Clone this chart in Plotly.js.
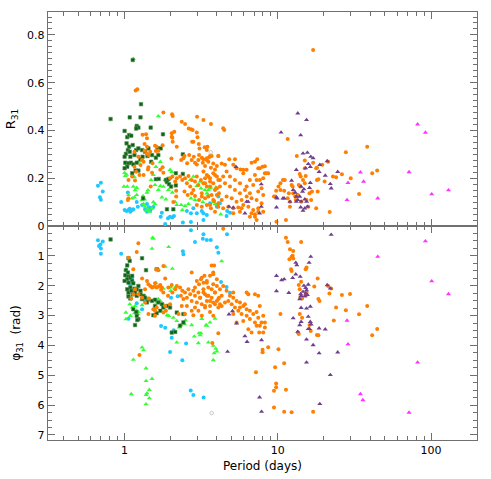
<!DOCTYPE html>
<html>
<head>
<meta charset="utf-8">
<script src="https://cdn.plot.ly/plotly-3.0.1.min.js"></script>
<style>
  html, body { margin: 0; padding: 0; background: #fff; }
  #chart { width: 491px; height: 479px; }
</style>
</head>
<body>
<div id="chart"></div>
<script>
// ---- R31 panel (top) ----
const cyanTopP = [0.67,0.70,0.72,0.69,0.70,0.95,1.05,1.00,1.03,1.06,1.09,1.12,1.14,1.08,1.20,1.22,1.30,1.36,1.40,1.44,1.47,1.50,1.54,1.40,1.75,1.72,1.84,1.92,1.98,2.05,2.10,2.40,2.55,2.71,2.81,2.96,3.19,3.27,3.44,3.61,4.09,4.00,3.27,4.00,4.19,4.67,4.87,4.63,2.71];
const cyanTopR = [0.169,0.181,0.144,0.120,0.110,0.100,0.140,0.067,0.063,0.067,0.060,0.067,0.070,0.072,0.100,0.081,0.088,0.070,0.092,0.078,0.064,0.075,0.080,0.060,0.056,0.039,0.008,0.032,0.039,0.036,0.042,0.015,0.063,0.053,0.074,0.053,0.063,0.053,0.046,0.095,0.123,0.081,0.025,0.088,0.095,0.063,0.056,0.042,0.017];

const lgreenTopP = [1.66,1.14,1.23,1.01,1.04,1.06,1.14,1.17,1.20,1.12,1.16,1.20,1.32,1.35,1.40,1.42,1.30,1.33,1.36,1.38,1.42,1.45,1.51,1.54,1.58,1.49,1.54,1.58,1.66,1.71,1.60,1.71,1.84,1.92,1.98,1.79,1.89,1.93,2.05,2.03,1.75,1.86,2.14,2.19,2.34,2.38,2.48,2.61,2.71,2.88,2.96,3.15,3.52,3.61,2.81,2.68,3.79,3.89,3.11,3.44,3.35,3.52,3.65,3.94,3.24,4.24,1.16,0.99,1.00,1.03,1.02,1.03];
const lgreenTopR = [0.460,0.700,0.270,0.210,0.165,0.130,0.165,0.150,0.160,0.116,0.120,0.130,0.126,0.112,0.140,0.150,0.109,0.092,0.081,0.064,0.070,0.060,0.074,0.100,0.092,0.193,0.214,0.172,0.151,0.168,0.248,0.269,0.193,0.200,0.235,0.165,0.186,0.151,0.140,0.227,0.120,0.112,0.100,0.088,0.088,0.067,0.084,0.092,0.116,0.109,0.168,0.158,0.151,0.158,0.207,0.193,0.100,0.092,0.186,0.137,0.151,0.130,0.162,0.162,0.100,0.049,0.205,0.165,0.222,0.215,0.260,0.250];

const dgreenTopP = [0.81,1.28,1.08,1.27,1.13,1.20,1.23,1.19,1.48,1.00,1.04,1.07,1.105,1.03,1.07,1.13,1.05,1.08,1.02,1.00,1.09,1.16,1.19,1.23,1.30,1.27,1.31,1.36,1.43,1.41,1.51,1.49,1.60,1.64,1.72,1.66,1.78,1.01,1.06,1.10,1.14,1.20,1.18,1.23,1.04,1.00,1.12,1.60,1.67,1.86,1.89,1.95,2.01,2.16,1.93,1.32,1.89,2.08,2.40,2.16,2.40];
const dgreenTopR = [0.448,0.510,0.455,0.455,0.695,0.419,0.412,0.408,0.412,0.398,0.372,0.381,0.378,0.346,0.332,0.339,0.318,0.311,0.302,0.290,0.290,0.297,0.318,0.325,0.318,0.279,0.290,0.311,0.325,0.293,0.297,0.269,0.286,0.325,0.325,0.297,0.384,0.265,0.263,0.265,0.258,0.265,0.232,0.232,0.248,0.242,0.221,0.196,0.197,0.193,0.184,0.175,0.165,0.170,0.196,0.116,0.070,0.070,0.300,0.221,0.218];

const orangeTopP = [1.18,1.21,1.79,2.04,2.06,2.36,2.48,2.62,2.71,2.78,2.97,3.27,3.66,4.40,4.47,2.96,2.99,3.05,3.08,2.76,2.81,3.33,3.44,1.31,1.38,1.40,1.35,1.40,1.58,1.62,1.66,2.03,2.03,2.06,2.19,1.77,2.02,2.11,2.05,1.60,1.47,1.35,1.40,1.43,1.16,1.23,1.30,1.33,1.27,1.16,1.19,1.25,1.12,1.06,1.42,1.51,1.52,1.71,1.77,1.79,1.98,2.05,2.14,2.19,
  2.34,2.42,2.46,2.56,2.64,2.74,2.83,2.88,2.96,3.03,3.06,3.19,3.24,3.35,3.44,3.52,3.56,3.70,3.66,3.89,4.09,4.00,
  2.30,2.38,2.48,2.55,2.61,2.68,2.74,2.81,2.88,2.96,3.03,3.15,3.19,3.27,3.35,3.44,3.52,3.61,3.70,3.79,3.89,4.00,4.09,4.13,3.52,3.35,3.19,3.06,2.88,2.74,2.58,2.46,2.96,3.19,3.44,3.66,3.89,4.09,3.79,
  1.06,1.05,1.17,1.33,1.48,2.08,2.17,2.17,1.43,3.47,
  3.27,3.44,3.61,3.79,4.09,4.30,4.52,4.82,5.12,5.25,5.38,5.71,5.95,6.26,6.74,7.09,7.34,7.63,7.95,8.23,8.65,7.09,7.27,7.63,8.03,6.57,6.26,5.66,5.25,4.87,4.63,4.40,4.19,4.00,3.79,3.61,3.44,3.27,3.35,3.61,3.89,4.19,4.52,4.87,5.25,5.66,6.10,6.57,6.91,7.45,7.83,8.03,7.83,7.27,6.74,6.26,5.80,5.38,5.00,4.63,4.30,4.00,3.84,3.61,4.09,4.40,4.75,5.12,5.52,5.95,6.42,6.91,7.45,5.12,5.66,7.09,6.57,
  5.95,7.45,8.23,6.74,7.09,7.27,8.03,7.45,5.80,8.44,
  9.44,9.75,10.1,10.4,10.8,11.1,11.0,11.6,12.0,12.3,12.5,12.6,13.0,13.1,13.5,13.7,14.0,14.2,14.6,15.0,15.2,15.4,15.8,16.1,16.5,16.7,17.8,18.2,18.4,19.5,20.2,
  17.0,11.6,13.3,15.0,13.9,14.1,17.0,18.0,15.0,18.0,21.3,22.9,24.0,26.2,27.8,29.9,38.3,41.3,44.5,33.9,21.8,11.3,
  10.4,11.8,12.0,9.6,9.8,17.8];
const orangeTopR = [0.567,0.573,0.475,0.468,0.461,0.436,0.427,0.408,0.405,0.402,0.457,0.444,0.427,0.409,0.402,0.391,0.372,0.343,0.325,0.353,0.353,0.330,0.318,0.382,0.384,0.367,0.343,0.332,0.336,0.332,0.315,0.388,0.374,0.353,0.332,0.338,0.283,0.395,0.370,0.314,0.311,0.315,0.304,0.297,0.311,0.290,0.276,0.269,0.255,0.248,0.227,0.214,0.207,0.193,0.237,0.223,0.263,0.235,0.246,0.223,0.200,0.207,0.186,0.200,
  0.276,0.284,0.293,0.263,0.297,0.276,0.290,0.265,0.258,0.276,0.297,0.286,0.265,0.251,0.276,0.269,0.288,0.293,0.244,0.237,0.293,0.251,
  0.207,0.193,0.200,0.179,0.209,0.165,0.193,0.151,0.186,0.207,0.172,0.193,0.137,0.179,0.200,0.165,0.207,0.186,0.130,0.179,0.214,0.158,0.193,0.137,0.123,0.116,0.123,0.109,0.126,0.137,0.130,0.144,0.088,0.081,0.088,0.074,0.060,0.095,0.109,
  0.116,0.109,0.190,0.214,0.165,0.100,0.123,0.148,0.246,0.332,
  0.279,0.284,0.293,0.262,0.293,0.262,0.256,0.279,0.256,0.279,0.242,0.237,0.221,0.235,0.265,0.269,0.279,0.242,0.248,0.221,0.221,0.214,0.193,0.193,0.200,0.193,0.165,0.179,0.193,0.207,0.228,0.207,0.193,0.207,0.221,0.200,0.214,0.228,0.179,0.165,0.151,0.165,0.179,0.165,0.151,0.137,0.151,0.137,0.172,0.144,0.158,0.130,0.095,0.109,0.116,0.123,0.109,0.102,0.116,0.123,0.109,0.130,0.105,0.088,0.081,0.074,0.081,0.074,0.077,0.088,0.081,0.067,0.074,0.053,0.060,0.049,0.039,
  0.235,0.242,0.250,0.053,0.039,0.025,0.060,0.060,0.074,0.221,
  0.123,0.148,0.165,0.179,0.193,0.193,0.148,0.116,0.102,0.172,0.165,0.137,0.123,0.109,0.130,0.172,0.165,0.102,0.193,0.179,0.209,0.109,0.081,0.137,0.109,0.144,0.074,0.144,0.196,0.256,0.186,
  0.737,0.364,0.293,0.274,0.218,0.207,0.265,0.244,0.242,0.193,0.269,0.207,0.204,0.217,0.309,0.200,0.332,0.221,0.232,0.134,0.059,0.025,
  0.151,0.137,0.081,0.123,0.018,0.242];

const purpleTopP = [13.5,15.4,10.5,14.1,14.6,15.6,16.4,17.0,15.8,16.3,15.2,18.8,18.6,21.0,20.4,24.6,22.0,22.3,13.2,12.3,12.6,13.0,14.2,14.8,14.5,13.9,13.2,13.5,14.2,15.0,15.4,15.6,15.0,14.6,14.1,13.2,12.0,11.0,9.9,9.8,7.8,6.1,7.6,7.8,6.4,16.1,16.3,5.33,4.8,5.12,6.26,9.8,10.8];
const purpleTopR = [0.472,0.444,0.392,0.380,0.304,0.307,0.290,0.284,0.260,0.248,0.242,0.256,0.227,0.272,0.211,0.227,0.176,0.158,0.235,0.190,0.151,0.140,0.165,0.154,0.144,0.123,0.102,0.109,0.103,0.112,0.102,0.081,0.074,0.064,0.078,0.123,0.102,0.116,0.116,0.078,0.175,0.053,0.053,0.081,0.102,0.160,0.181,0.248,0.081,0.077,0.102,0.120,0.116];

const magentaTopP = [81.7,91.9,71.9,34.6,28.7,36.3,28.3,44.9,101,130];
const magentaTopR = [0.426,0.391,0.226,0.225,0.181,0.186,0.109,0.116,0.133,0.150];

const grayTopP = [3.65];
const grayTopR = [0.309];

// ---- phi31 panel (bottom) ----
const cyanBotP = [0.67,0.695,0.72,0.68,0.70,0.70,0.95,1.105,1.09,1.12,1.06,1.20,1.30,1.43,1.33,2.40,2.42,2.22,2.01,2.03,2.09,1.73,1.84,2.52,1.98,2.38,2.71,3.27,3.24,3.44,3.65,2.88,4.00,4.09,4.26,4.63,4.87,2.70,2.81,3.28,4.66,1.36];
const cyanBotPhi = [0.48,0.62,0.52,0.67,0.75,0.93,0.93,1.79,1.96,1.73,3.11,2.59,2.79,2.48,2.37,0.85,0.95,2.35,2.40,3.74,3.49,3.35,3.41,3.94,4.22,4.50,0.14,0.28,0.43,0.47,0.47,0.54,0.71,0.90,1.88,2.04,2.24,5.51,5.66,5.75,0.28,2.50];

const lgreenBotP = [1.52,1.54,1.51,1.94,2.05,1.84,1.66,1.60,1.58,2.00,2.00,1.79,2.14,1.08,1.12,1.17,1.20,1.23,1.16,1.22,1.09,1.02,1.02,1.30,1.66,1.71,1.62,1.79,1.89,1.89,1.94,2.08,2.19,2.33,2.27,2.46,2.50,2.74,2.85,3.06,3.15,3.44,3.61,3.89,2.19,3.03,3.52,3.79,3.84,3.79,1.30,1.33,1.14,1.38,1.38,1.51,1.45,1.38,1.40,1.45,1.38,1.105,4.30,3.19,3.40,3.11,3.94,4.00,1.02];
const lgreenBotPhi = [0.39,0.42,0.76,0.70,1.43,1.36,1.45,1.90,2.01,2.06,2.17,2.10,2.06,2.62,2.73,2.68,2.84,2.88,2.92,2.95,3.01,3.12,2.90,2.65,2.45,2.51,2.56,2.62,2.68,2.99,3.01,3.07,3.18,3.32,3.40,3.29,3.16,3.32,3.70,3.59,3.59,3.34,3.23,3.10,3.90,3.92,3.90,4.01,4.26,4.49,4.07,4.16,4.48,4.77,5.19,5.12,5.49,5.66,5.60,5.77,5.97,5.63,1.18,3.11,3.32,3.66,4.11,4.20,1.45];

const dgreenBotP = [0.81,1.06,1.08,1.30,1.04,1.02,1.05,1.01,1.06,1.04,1.09,1.12,1.00,1.06,1.12,1.14,1.09,1.04,1.06,1.105,1.16,1.20,1.23,1.27,1.17,1.13,1.06,1.09,1.20,1.27,1.33,1.36,1.30,1.43,1.40,1.51,1.58,1.66,1.75,1.79,1.89,1.98,1.58,1.54,1.62,1.71,1.23,1.20,1.19,1.14,2.19,2.42,2.42,2.30,2.14,2.03,1.38,1.62,1.17,1.21];
const dgreenBotPhi = [0.45,1.08,1.17,1.08,1.32,1.48,1.56,1.65,1.69,1.78,1.73,1.67,1.84,1.90,1.84,1.92,2.06,2.12,2.23,2.17,2.10,2.12,2.01,2.17,2.23,2.29,2.36,2.43,2.34,2.29,2.34,2.40,2.45,2.45,2.56,2.51,2.47,2.56,2.62,2.73,2.68,2.73,2.68,2.99,2.92,2.84,3.12,3.01,2.88,2.79,2.90,2.95,3.23,3.34,3.55,3.57,1.48,1.45,3.32,3.15];

const orangeBotP = [1.23,1.20,1.06,1.14,1.30,1.40,1.61,1.66,1.79,1.84,1.58,1.47,1.51,1.54,1.43,1.36,1.62,1.66,1.71,1.75,1.73,1.79,1.93,2.03,2.05,2.14,1.92,1.98,1.84,1.86,1.79,1.62,1.58,1.54,1.44,1.36,1.30,1.23,1.17,1.14,1.105,1.43,1.58,1.25,
  2.19,2.30,2.38,2.48,2.33,2.42,2.55,2.61,2.68,2.74,2.81,2.88,2.96,3.03,3.11,3.19,3.27,3.35,3.44,3.52,3.61,3.70,3.79,3.89,4.00,4.09,4.13,2.88,3.06,3.15,3.32,3.44,3.79,2.74,2.96,3.52,4.00,3.84,2.88,2.55,2.74,2.36,2.25,2.81,3.19,2.48,3.35,3.61,3.03,3.79,
  3.19,3.27,3.44,3.61,3.79,4.00,3.70,3.89,4.19,4.40,4.63,4.87,5.12,5.38,5.66,5.95,6.26,6.57,6.91,7.27,7.45,7.83,8.23,8.03,7.63,7.09,6.57,6.26,5.80,5.52,5.25,5.00,4.75,4.52,4.30,4.09,3.89,3.61,3.44,3.27,3.11,3.35,4.30,5.12,5.66,6.10,6.42,7.09,7.45,7.63,6.42,6.74,7.27,5.95,5.38,5.12,4.09,3.74,4.19,6.26,3.70,3.79,8.23,8.03,7.56,4.40,
  11.3,11.6,12.0,12.6,14.2,15.4,15.2,11.9,12.3,12.5,12.6,12.2,12.3,13.7,13.9,14.0,14.4,15.2,15.4,18.2,17.3,18.4,18.7,14.2,13.9,14.4,13.7,13.5,18.4,10.4,
  21.3,21.7,22.3,26.2,29.6,24.0,27.8,33.9,38.3,23.2,44.5,41.3,16.4,16.1,10.1,8.65,7.95,7.95,7.2,11.0,9.6,9.75,9.75,9.44,11.3,9.44,11.0,12.3,17.0,18.0];
const orangeBotPhi = [0.58,0.87,1.06,1.45,1.76,1.84,1.45,1.48,1.34,1.76,1.92,2.01,2.06,2.04,1.95,2.12,2.06,2.03,1.98,2.06,2.14,2.23,2.06,1.98,2.23,2.12,2.34,2.62,2.68,2.84,2.90,2.73,2.84,2.79,2.43,2.56,2.40,2.29,2.12,2.29,2.43,2.95,3.01,4.32,
  2.01,2.06,2.17,2.23,2.34,2.45,2.40,2.12,2.29,2.51,2.17,2.34,2.56,2.23,2.40,2.62,2.12,2.29,2.51,2.34,2.68,2.40,2.56,2.23,2.51,2.73,2.40,2.06,1.95,1.78,1.67,1.90,1.62,1.56,1.84,2.06,2.01,1.32,2.73,2.68,2.84,2.68,2.95,2.99,3.01,2.95,2.73,2.88,2.84,3.01,
  1.73,1.90,1.84,1.67,1.95,1.78,2.12,2.23,2.12,2.01,2.17,2.34,2.40,2.51,2.56,2.68,2.79,2.84,2.95,2.88,3.07,3.23,3.40,3.01,3.34,3.23,3.12,3.01,2.95,2.84,2.73,2.62,2.51,2.56,2.68,2.45,2.62,2.51,2.34,2.23,2.40,2.68,2.34,2.23,2.73,2.62,2.29,2.29,2.34,2.68,3.46,3.57,3.34,3.18,3.23,2.95,3.59,3.92,2.62,2.23,1.32,1.56,3.23,3.57,3.57,0.09,
  0.39,0.54,0.78,0.84,0.54,1.39,1.45,1.11,1.03,1.00,1.09,1.45,1.51,1.98,2.12,2.40,2.43,2.34,2.23,1.76,2.03,2.45,2.51,1.87,2.95,3.07,3.62,3.57,3.66,2.95,
  2.01,2.26,2.09,2.31,2.28,2.73,2.82,2.96,2.68,3.17,3.45,3.66,3.52,3.32,4.13,4.06,4.15,4.23,4.90,4.60,4.73,5.28,5.40,5.52,5.49,6.08,6.22,6.24,6.22,3.65];

const purpleBotP = [22.3,16.4,16.0,13.1,13.3,9.8,10.6,11.0,12.5,13.1,14.0,9.8,11.8,14.8,15.2,15.4,15.8,14.6,15.2,15.6,15.0,14.2,13.9,14.1,21.0,22.0,14.2,15.4,16.3,12.6,14.2,13.9,13.5,15.8,16.3,16.5,16.1,15.8,18.6,20.4,15.4,17.0,18.6,24.6,15.4,22.0,18.8,7.6,7.83,6.1,6.3,7.83,5.06,4.8,5.38,4.7];
const purpleBotPhi = [0.29,1.03,1.23,1.23,1.31,1.67,1.81,1.78,1.74,1.62,1.70,2.18,2.24,2.00,2.07,2.15,1.96,2.20,2.26,2.31,2.35,2.34,2.45,2.28,1.98,2.09,2.74,2.76,2.70,3.09,3.21,3.32,3.54,3.04,3.21,3.30,3.45,3.45,3.43,3.46,3.80,3.99,4.26,4.23,4.57,4.99,5.96,5.74,6.22,3.69,3.88,3.82,2.85,2.96,3.26,4.21];

const magentaBotP = [91.9,44.9,101,130,28.3,28.7,81.7,34.6,35.9,71.9];
const magentaBotPhi = [0.51,1.03,1.85,2.28,3.17,3.96,4.57,5.63,5.83,6.25];

const grayBotP = [3.70];
const grayBotPhi = [6.27];

const styles = {
  cyan:    { color: "#1cc8ff", symbol: "circle", size: 4 },
  lgreen:  { color: "#33ff33", symbol: "triangle-up", size: 4.5 },
  dgreen:  { color: "#0b6414", symbol: "square", size: 3.5, line: { color: "#5a905a", width: 0.6 } },
  orange:  { color: "#ff7f00", symbol: "circle", size: 4 },
  purple:  { color: "#6f3f8f", symbol: "triangle-up", size: 4.5 },
  magenta: { color: "#ff33ff", symbol: "triangle-up", size: 4.5 },
  gray:    { color: "#ffffff", symbol: "circle", size: 3.5, line: { color: "#c8c8c8", width: 1 } }
};

function pts(x, y, key, xa, ya) {
  return {
    x: x, y: y, xaxis: xa, yaxis: ya,
    mode: "markers", type: "scatter",
    marker: styles[key],
    hoverinfo: "skip", showlegend: false
  };
}

const traces = [
  pts(cyanTopP, cyanTopR, "cyan", "x2", "y"),
  pts(lgreenTopP, lgreenTopR, "lgreen", "x2", "y"),
  pts(dgreenTopP, dgreenTopR, "dgreen", "x2", "y"),
  pts(orangeTopP, orangeTopR, "orange", "x2", "y"),
  pts(purpleTopP, purpleTopR, "purple", "x2", "y"),
  pts(magentaTopP, magentaTopR, "magenta", "x2", "y"),
  pts(grayTopP, grayTopR, "gray", "x2", "y"),
  pts(cyanBotP, cyanBotPhi, "cyan", "x", "y2"),
  pts(lgreenBotP, lgreenBotPhi, "lgreen", "x", "y2"),
  pts(dgreenBotP, dgreenBotPhi, "dgreen", "x", "y2"),
  pts(orangeBotP, orangeBotPhi, "orange", "x", "y2"),
  pts(purpleBotP, purpleBotPhi, "purple", "x", "y2"),
  pts(magentaBotP, magentaBotPhi, "magenta", "x", "y2"),
  pts(grayBotP, grayBotPhi, "gray", "x", "y2")
];

const font = { family: "DejaVu Sans, sans-serif", size: 11, color: "#000" };
const minorLog = [0.4,0.5,0.6,0.7,0.8,0.9,2,3,4,5,6,7,8,9,20,30,40,50,60,70,80,90,200];
const frame = "#707070";

const xCommon = {
  type: "log",
  range: [-0.5, 2.3],
  tickmode: "array",
  tickvals: [1, 10, 100],
  ticktext: ["1", "10", "100"],
  ticks: "inside", ticklen: 7, tickwidth: 1, tickcolor: frame,
  minor: { tickmode: "array", tickvals: minorLog, ticks: "inside", ticklen: 4, tickcolor: frame, showgrid: false },
  showline: true, linecolor: frame, linewidth: 1.2,
  mirror: "allticks", showgrid: false, zeroline: false,
  tickfont: font
};

const layout = {
  width: 491, height: 479,
  margin: { l: 48, r: 14, t: 12, b: 39 },
  paper_bgcolor: "#fff", plot_bgcolor: "#fff",
  font: font,
  xaxis: Object.assign({}, xCommon, {
    anchor: "y2", domain: [0, 1],
    title: { text: "Period (days)", font: { family: font.family, size: 12 }, standoff: 5 }
  }),
  xaxis2: Object.assign({}, xCommon, {
    anchor: "y", domain: [0, 1], matches: "x", showticklabels: false
  }),
  yaxis: {
    domain: [0.5, 1], anchor: "x2",
    range: [0, 0.896],
    tickmode: "array",
    tickvals: [0, 0.2, 0.4, 0.6, 0.8],
    ticktext: ["0", "0.2", "0.4", "0.6", "0.8"],
    ticks: "inside", ticklen: 7, tickcolor: frame,
    minor: { dtick: 0.025, tick0: 0, ticks: "inside", ticklen: 4, tickcolor: frame, showgrid: false },
    showline: true, linecolor: frame, linewidth: 1.2, mirror: "allticks",
    showgrid: false, zeroline: true, zerolinecolor: "#000", zerolinewidth: 1.2,
    tickfont: font,
    title: { text: "R<sub>31</sub>", font: { family: font.family, size: 13 }, standoff: 8 }
  },
  yaxis2: {
    domain: [0, 0.5], anchor: "x",
    range: [7.17, 0],
    tickmode: "array",
    tickvals: [1, 2, 3, 4, 5, 6, 7],
    ticks: "inside", ticklen: 7, tickcolor: frame,
    minor: { dtick: 0.25, tick0: 0, ticks: "inside", ticklen: 4, tickcolor: frame, showgrid: false },
    showline: true, linecolor: frame, linewidth: 1.2, mirror: "allticks",
    showgrid: false, zeroline: false,
    tickfont: font,
    title: { text: "φ<sub>31</sub>  (rad)", font: { family: font.family, size: 12 }, standoff: 14 }
  }
};

Plotly.newPlot("chart", traces, layout, { displayModeBar: false, staticPlot: true });
</script>
</body>
</html>
